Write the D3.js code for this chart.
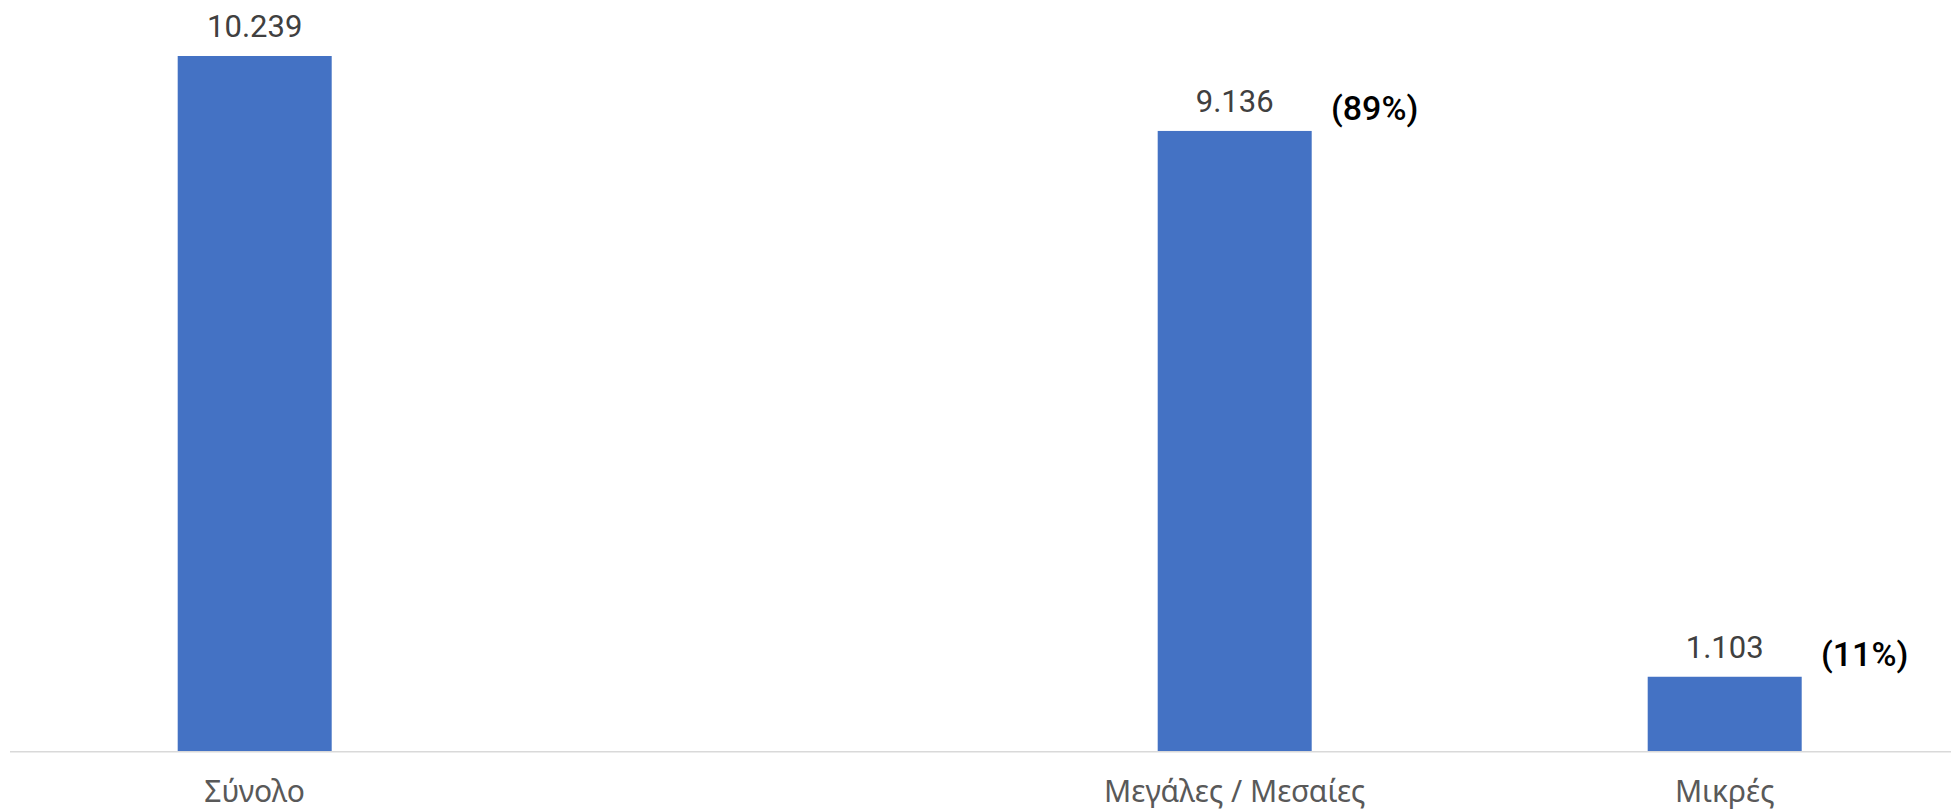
<!DOCTYPE html>
<html>
<head>
<meta charset="utf-8">
<script src="https://cdn.jsdelivr.net/npm/d3@7"></script>
<style>
  html, body { margin: 0; padding: 0; background: #ffffff; }
  svg { display: block; }
</style>
</head>
<body>
<svg id="chart" width="1951" height="812"></svg>
<script>
// ---- data ----
const categories = ["Σύνολο", " ", "Μεγάλες / Μεσαίες", "Μικρές"];
const values = [10239, null, 9136, 1103];
const shareLabels = [null, null, "(89%)", "(11%)"];

// ---- layout ----
const W = 1951, H = 812;
const baseY = 751.7, topY = 56;
const svg = d3.select("#chart");

const locale = d3.formatLocale({ decimal: ",", thousands: ".", grouping: [3], currency: ["€", ""] });
const fmt = locale.format(",d");

const x = d3.scaleBand()
  .domain(categories)
  .range([9.7, 9.7 + 490 * categories.length])
  .paddingInner(1 - 154 / 490)
  .paddingOuter((1 - 154 / 490) / 2);

const y = d3.scaleLinear()
  .domain([0, d3.max(values)])
  .range([baseY, topY]);

const data = categories.map((c, i) => ({ c, v: values[i], s: shareLabels[i] }));

// bars
svg.append("g").selectAll("rect")
  .data(data.filter(d => d.v != null))
  .join("rect")
  .attr("x", d => x(d.c))
  .attr("width", x.bandwidth())
  .attr("y", d => y(d.v))
  .attr("height", d => y(0) - y(d.v))
  .attr("fill", "#4472C4");

// axis
const axis = d3.axisBottom(x).tickSize(0).tickPadding(29);
const gx = svg.append("g").attr("transform", `translate(0,${baseY})`).call(axis);
gx.select(".domain").remove();
svg.append("line")
  .attr("x1", 10).attr("x2", W)
  .attr("y1", baseY).attr("y2", baseY)
  .attr("stroke", "#D9D9D9").attr("stroke-width", 1.6);
gx.selectAll("text")
  .attr("fill", "#595959")
  .style("font-family", "'Noto Sans', sans-serif")
  .style("font-size", "30px");

// value labels
svg.append("g").selectAll("text")
  .data(data.filter(d => d.v != null))
  .join("text")
  .attr("x", d => x(d.c) + x.bandwidth() / 2)
  .attr("y", d => y(d.v) - 19)
  .attr("text-anchor", "middle")
  .attr("fill", "#404040")
  .style("font-family", "Roboto, sans-serif")
  .style("font-size", "31px")
  .text(d => fmt(d.v));

// share labels
svg.append("g").selectAll("text")
  .data(data.filter(d => d.s != null))
  .join("text")
  .attr("x", d => x(d.c) + x.bandwidth() / 2 + 140)
  .attr("y", d => y(d.v) - 11)
  .attr("text-anchor", "middle")
  .attr("fill", "#000000")
  .style("font-family", "Roboto, sans-serif")
  .style("font-weight", "500")
  .style("font-size", "34px")
  .text(d => d.s);
</script>
</body>
</html>
